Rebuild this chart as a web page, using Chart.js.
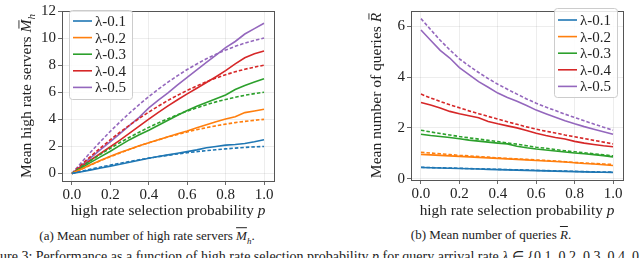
<!DOCTYPE html>
<html>
<head>
<meta charset="utf-8">
<script src="https://cdn.jsdelivr.net/npm/chart.js@4.4.1/dist/chart.umd.min.js"></script>
<style>
  body { margin: 0; background: #fff; }
  #wrap { position: relative; width: 640px; height: 258px; overflow: hidden; font-family: "Liberation Serif", serif; color: #222; }
  canvas { position: absolute; top: 0; }
  .cap { position: absolute; white-space: nowrap; font-size: 13px; transform: translate(-50%, -50%); }
  .ov { text-decoration: overline; }
  #figline { position: absolute; top: 248px; white-space: nowrap; font-size: 14px; }
</style>
</head>
<body>
<div id="wrap">
  <canvas id="serversChart" width="320" height="222" style="left:0"></canvas>
  <canvas id="queriesChart" width="320" height="222" style="left:320px"></canvas>
  <div class="cap" style="left:147px; top:237px">(a) Mean number of high rate servers <i class="ov">M</i><sub style="font-size:9px"><i>h</i></sub>.</div>
  <div class="cap" style="left:491px; top:235px">(b) Mean number of queries <i class="ov">R</i>.</div>
  <div id="figline">Figure 3: Performance as a function of high rate selection probability <i>p</i> for query arrival rate <i>λ</i> ∈ {0.1, 0.2, 0.3, 0.4, 0.5}.</div>
</div>
<script>
// Data
const probs = [0, 0.05, 0.1, 0.15, 0.2, 0.25, 0.3, 0.35, 0.4, 0.45, 0.5, 0.55, 0.6, 0.65, 0.7, 0.75, 0.8, 0.85, 0.9, 0.95, 1.0];
const lambdaLabels = ['λ-0.1', 'λ-0.2', 'λ-0.3', 'λ-0.4', 'λ-0.5'];

// mean high rate servers, simulation (solid) and model (dashed)
const serversSim01 = [0, 0.13, 0.27, 0.41, 0.55, 0.69, 0.83, 0.98, 1.13, 1.26, 1.38, 1.5, 1.62, 1.75, 1.9, 2.0, 2.1, 2.15, 2.22, 2.35, 2.5];
const serversSim02 = [0, 0.34, 0.67, 0.98, 1.27, 1.55, 1.8, 2.05, 2.28, 2.5, 2.72, 2.94, 3.14, 3.38, 3.6, 3.82, 4.02, 4.2, 4.5, 4.62, 4.75];
const serversSim03 = [0, 0.42, 0.84, 1.25, 1.65, 2.08, 2.5, 2.86, 3.2, 3.56, 3.93, 4.3, 4.65, 4.97, 5.25, 5.52, 5.8, 6.2, 6.5, 6.75, 7.0];
const serversSim04 = [0, 0.52, 1.02, 1.5, 1.98, 2.47, 2.98, 3.5, 4.02, 4.52, 5.0, 5.45, 5.88, 6.3, 6.72, 7.15, 7.6, 8.1, 8.55, 8.85, 9.05];
const serversSim05 = [0, 0.6, 1.2, 1.78, 2.36, 2.95, 3.55, 4.15, 4.85, 5.42, 5.95, 6.55, 7.1, 7.65, 8.2, 8.75, 9.3, 9.75, 10.3, 10.7, 11.1];
const serversModel01 = [0, 0.17, 0.33, 0.48, 0.62, 0.76, 0.89, 1.02, 1.14, 1.25, 1.35, 1.45, 1.54, 1.62, 1.69, 1.76, 1.82, 1.88, 1.93, 1.97, 2.0];
const serversModel02 = [0, 0.33, 0.65, 0.96, 1.25, 1.52, 1.79, 2.04, 2.27, 2.49, 2.7, 2.89, 3.07, 3.24, 3.39, 3.52, 3.65, 3.76, 3.85, 3.93, 4.0];
const serversModel03 = [0, 0.5, 0.98, 1.43, 1.87, 2.29, 2.68, 3.05, 3.41, 3.74, 4.05, 4.34, 4.61, 4.85, 5.08, 5.29, 5.47, 5.63, 5.78, 5.9, 6.0];
const serversModel04 = [0, 0.67, 1.3, 1.91, 2.5, 3.05, 3.58, 4.07, 4.54, 4.98, 5.4, 5.78, 6.14, 6.47, 6.78, 7.05, 7.3, 7.51, 7.7, 7.86, 8.0];
const serversModel05 = [0, 0.83, 1.63, 2.39, 3.12, 3.81, 4.47, 5.09, 5.68, 6.23, 6.75, 7.23, 7.68, 8.09, 8.47, 8.81, 9.12, 9.39, 9.63, 9.83, 10.0];

// mean number of queries, simulation (solid) and model (dashed)
const queriesSim01 = [0.44, 0.43, 0.42, 0.41, 0.4, 0.39, 0.38, 0.37, 0.36, 0.35, 0.34, 0.33, 0.32, 0.31, 0.3, 0.29, 0.28, 0.27, 0.26, 0.255, 0.25];
const queriesSim02 = [0.96, 0.94, 0.92, 0.9, 0.88, 0.86, 0.84, 0.82, 0.8, 0.78, 0.76, 0.74, 0.72, 0.7, 0.68, 0.66, 0.63, 0.6, 0.58, 0.55, 0.52];
const queriesSim03 = [1.75, 1.7, 1.66, 1.62, 1.57, 1.52, 1.48, 1.44, 1.4, 1.37, 1.28, 1.22, 1.17, 1.13, 1.09, 1.05, 1.01, 0.98, 0.95, 0.91, 0.86];
const queriesSim04 = [3.0, 2.9, 2.78, 2.65, 2.56, 2.48, 2.4, 2.25, 2.16, 2.08, 2.0, 1.9, 1.79, 1.7, 1.62, 1.56, 1.47, 1.4, 1.35, 1.3, 1.26];
const queriesSim05 = [5.85, 5.45, 5.05, 4.75, 4.37, 4.1, 3.82, 3.6, 3.37, 3.2, 3.05, 2.88, 2.7, 2.56, 2.42, 2.28, 2.16, 2.05, 1.95, 1.85, 1.75];
const queriesModel01 = [0.45, 0.44, 0.43, 0.42, 0.41, 0.4, 0.39, 0.38, 0.37, 0.36, 0.35, 0.34, 0.33, 0.32, 0.31, 0.3, 0.29, 0.28, 0.27, 0.265, 0.26];
const queriesModel02 = [1.04, 1.01, 0.98, 0.95, 0.92, 0.9, 0.87, 0.85, 0.82, 0.8, 0.78, 0.76, 0.74, 0.72, 0.7, 0.67, 0.64, 0.62, 0.6, 0.58, 0.56];
const queriesModel03 = [1.91, 1.84, 1.78, 1.72, 1.66, 1.61, 1.56, 1.51, 1.46, 1.41, 1.36, 1.3, 1.24, 1.2, 1.15, 1.1, 1.06, 1.02, 0.98, 0.94, 0.9];
const queriesModel04 = [3.33, 3.18, 3.04, 2.91, 2.79, 2.67, 2.56, 2.45, 2.35, 2.24, 2.14, 2.04, 1.95, 1.87, 1.8, 1.72, 1.65, 1.58, 1.51, 1.44, 1.37];
const queriesModel05 = [6.3, 5.87, 5.45, 5.07, 4.72, 4.44, 4.18, 3.94, 3.72, 3.52, 3.33, 3.14, 2.97, 2.82, 2.68, 2.54, 2.41, 2.28, 2.15, 2.03, 1.91];

const xTicks = [0, 0.2, 0.4, 0.6, 0.8, 1.0];
const serversTicks = [0, 2, 4, 6, 8, 10, 12];
const queriesTicks = [0, 2, 4, 6];

const colors = ['#1f77b4', '#ff7f0e', '#2ca02c', '#d62728', '#9467bd'];
const FONT = "'Liberation Serif', serif";

// draw text pieces (plain / italic / bar / subscript) centred on 0,0
function drawRich(ctx, parts, size) {
    const fontOf = p => (p.italic ? 'italic ' : '') + (p.sub ? Math.round(size * 0.7) : size) + 'px ' + FONT;
    let total = 0;
    parts.forEach(p => { ctx.font = fontOf(p); p.w = ctx.measureText(p.text).width; total += p.w; });
    let x = -total / 2;
    ctx.textBaseline = 'middle';
    ctx.textAlign = 'left';
    parts.forEach(p => {
        ctx.font = fontOf(p);
        const y = p.sub ? size * 0.3 : 0;
        ctx.fillText(p.text, x, y);
        if (p.bar) {
            ctx.save();
            ctx.lineWidth = 0.9;
            ctx.beginPath();
            ctx.moveTo(x + p.w * 0.3, -size * 0.52);
            ctx.lineTo(x + p.w * 0.95, -size * 0.52);
            ctx.stroke();
            ctx.restore();
        }
        x += p.w;
    });
}

function makeDecor(cfg) {
    return {
        id: 'decor',
        afterDraw(chart) {
            const ctx = chart.ctx;
            const a = chart.chartArea;
            ctx.save();
            // axes frame
            ctx.strokeStyle = '#555';
            ctx.lineWidth = 1;
            ctx.strokeRect(Math.round(a.left) + 0.5, Math.round(a.top) + 0.5, Math.round(a.right - a.left), Math.round(a.bottom - a.top));

            // legend
            const lg = cfg.legend;
            ctx.fillStyle = 'rgba(255,255,255,0.85)';
            ctx.strokeStyle = '#cccccc';
            ctx.beginPath();
            ctx.roundRect(lg.x + 0.5, lg.y + 0.5, lg.w, lg.h, 3);
            ctx.fill();
            ctx.stroke();
            lambdaLabels.forEach((label, i) => {
                const y = lg.y + lg.first + i * lg.step;
                ctx.strokeStyle = colors[i];
                ctx.lineWidth = 1.6;
                ctx.beginPath();
                ctx.moveTo(lg.x + 4, y);
                ctx.lineTo(lg.x + 23, y);
                ctx.stroke();
                ctx.fillStyle = '#222';
                ctx.font = '15px ' + FONT;
                ctx.textBaseline = 'middle';
                ctx.textAlign = 'left';
                ctx.fillText(label, lg.x + 26, y + 1);
            });

            // axis titles
            ctx.fillStyle = '#222';
            ctx.strokeStyle = '#222';
            ctx.save();
            ctx.translate((a.left + a.right) / 2, 210.5);
            drawRich(ctx, [{ text: 'high rate selection probability ' }, { text: 'p', italic: true }], 15.3);
            ctx.restore();
            ctx.save();
            ctx.translate(cfg.yTitleX, (a.top + a.bottom) / 2);
            ctx.rotate(-Math.PI / 2);
            drawRich(ctx, cfg.yTitle, 15.5);
            ctx.restore();
            ctx.restore();
        }
    };
}

function buildSets(sims, models) {
    const sets = [];
    sims.forEach((arr, i) => {
        sets.push({
            label: lambdaLabels[i],
            data: probs.map((p, k) => ({ x: p, y: arr[k] })),
            borderColor: colors[i],
            borderWidth: 1.6,
            pointRadius: 0,
            tension: 0
        });
        sets.push({
            label: lambdaLabels[i] + ' model',
            data: probs.map((p, k) => ({ x: p, y: models[i][k] })),
            borderColor: colors[i],
            borderWidth: 1.6,
            borderDash: [3.5, 2],
            pointRadius: 0,
            tension: 0
        });
    });
    return sets;
}

function makeChart(id, sims, models, yMin, yMax, yTicks, cfg) {
    const gridColor = 'rgba(0,0,0,0.09)';
    new Chart(document.getElementById(id), {
        type: 'line',
        data: { datasets: buildSets(sims, models) },
        options: {
            responsive: false,
            animation: false,
            layout: { padding: { top: 5, right: cfg.padRight, left: 0, bottom: 0 } },
            plugins: { legend: { display: false }, tooltip: { enabled: false } },
            scales: {
                x: {
                    type: 'linear',
                    min: -0.052,
                    max: 1.052,
                    afterBuildTicks: s => { s.ticks = xTicks.map(v => ({ value: v })); },
                    afterFit: s => { s.height = cfg.xHeight; },
                    ticks: { callback: v => v.toFixed(1), font: { family: FONT, size: 15 }, color: '#222', padding: 1, maxRotation: 0 },
                    grid: { color: gridColor, lineWidth: 0.8, tickColor: '#444', tickLength: 4 },
                    border: { display: false }
                },
                y: {
                    min: yMin,
                    max: yMax,
                    afterBuildTicks: s => { s.ticks = yTicks.map(v => ({ value: v })); },
                    afterFit: s => { s.width = cfg.yWidth; },
                    ticks: { callback: v => String(v), font: { family: FONT, size: 15 }, color: '#222', padding: 2 },
                    grid: { color: gridColor, lineWidth: 0.8, tickColor: '#444', tickLength: 4 },
                    border: { display: false }
                }
            }
        },
        plugins: [makeDecor(cfg)]
    });
}

function drawAll() {
    makeChart('serversChart',
        [serversSim01, serversSim02, serversSim03, serversSim04, serversSim05],
        [serversModel01, serversModel02, serversModel03, serversModel04, serversModel05],
        -0.55, 12, serversTicks,
        {
            padRight: 46, yWidth: 62, xHeight: 41, yTitleX: 27,
            legend: { x: 69, y: 10, w: 63, h: 89, first: 11, step: 16.6 },
            yTitle: [{ text: 'Mean high rate servers ' }, { text: 'M', italic: true, bar: true }, { text: 'h', italic: true, sub: true }]
        });

    makeChart('queriesChart',
        [queriesSim01, queriesSim02, queriesSim03, queriesSim04, queriesSim05],
        [queriesModel01, queriesModel02, queriesModel03, queriesModel04, queriesModel05],
        -0.05, 6.6, queriesTicks,
        {
            padRight: 17, yWidth: 91, xHeight: 42, yTitleX: 57,
            legend: { x: 234, y: 8, w: 63, h: 89, first: 12, step: 16.6 },
            yTitle: [{ text: 'Mean number of queries ' }, { text: 'R', italic: true, bar: true }]
        });

    // bottom caption line: "Fig" runs off the left edge as in the page crop
    const fig = document.getElementById('figline');
    const mctx = document.createElement('canvas').getContext('2d');
    mctx.font = '14px ' + FONT;
    fig.style.left = (-mctx.measureText('Fig').width) + 'px';
}

// make sure the serif face is ready before the canvases draw text
Promise.all([
    document.fonts.load("15px 'Liberation Serif'"),
    document.fonts.load("italic 15px 'Liberation Serif'")
]).then(drawAll, drawAll);
</script>
</body>
</html>
